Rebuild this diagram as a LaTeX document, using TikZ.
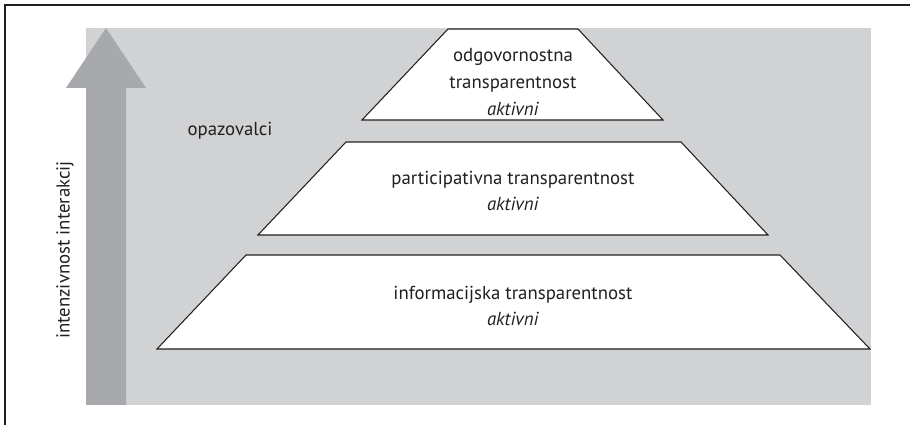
\documentclass[tikz,border=0pt]{standalone}
\usepackage{fontspec}
\setmainfont{PT Sans}
\definecolor{panelgray}{HTML}{D1D2D4}
\definecolor{arrowgray}{HTML}{A7A9AC}
\definecolor{inkgray}{HTML}{231F20}

\begin{document}
\begin{tikzpicture}[
    level/.style={draw=inkgray,line width=0.6pt,fill=white},
    lbl/.style={text=inkgray,align=center,inner sep=0pt,font=\fontsize{10.7}{15.2}\selectfont}
]
    \useasboundingbox (0,0) rectangle (18.2,8.5);
    %Frame
    \draw[inkgray,line width=0.6pt] (0.1,0) -- (0.1,8.4) -- (18.2,8.4);
    %Background
    \fill[panelgray] (1.72,0.4) rectangle (17.42,7.94);
    %Arrow
    \fill[arrowgray] (1.72,0.4) -- (2.52,0.4) -- (2.52,6.74) -- (2.92,6.74) -- (2.12,7.94) -- (1.32,6.74) -- (1.72,6.74) -- cycle;
    \node[lbl,rotate=90] (axis) at (1.3,3.5) {intenzivnost interakcij};
    \node[lbl] (observers) at (4.6,5.89) {opazovalci};
    %Accountability
    \draw[level] (7.24,6.1) -- (8.96,7.92) -- (11.56,7.92) -- (13.26,6.1) -- cycle;
    \node[lbl] (accountability) at (10.26,6.86) {odgovornostna\\transparentnost\\\textit{aktivni}};
    %Participation
    \draw[level] (5.16,3.8) -- (6.92,5.66) -- (13.62,5.66) -- (15.36,3.8) -- cycle;
    \node[lbl] (participation) at (10.26,4.68) {participativna transparentnost\\\textit{aktivni}};
    %Information
    \draw[level] (3.14,1.52) -- (4.92,3.4) -- (15.6,3.4) -- (17.4,1.52) -- cycle;
    \node[lbl] (information) at (10.26,2.38) {informacijska transparentnost\\\textit{aktivni}};
\end{tikzpicture}
\end{document}
